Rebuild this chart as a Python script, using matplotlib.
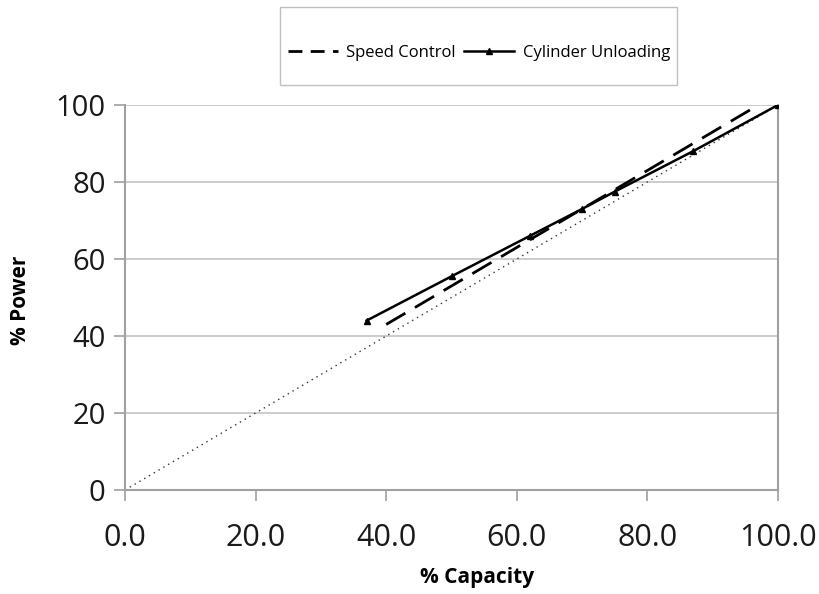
import matplotlib
matplotlib.use("Agg")
import matplotlib.pyplot as plt
from matplotlib.patches import Rectangle
from matplotlib.lines import Line2D

plt.rcParams['font.family'] = ['Open Sans', 'DejaVu Sans']

# Data
speed_x = [40, 50, 60, 70, 80, 90, 97]
speed_y = [43, 53, 63, 73, 83, 93, 100]

cyl_x = [37, 50, 62, 70, 75, 87, 100]
cyl_y = [44, 55.5, 66, 73, 77.5, 88, 100]

ref_x = [0, 100]
ref_y = [0, 100]

x_ticks = [0, 20, 40, 60, 80, 100]
x_labels = ["0.0", "20.0", "40.0", "60.0", "80.0", "100.0"]
y_ticks = [0, 20, 40, 60, 80, 100]
y_labels = ["0", "20", "40", "60", "80", "100"]

fig = plt.figure(figsize=(8.19, 5.94), dpi=100)
ax = fig.add_axes([125/819, 1-490/594, (778-125)/819, (490-105)/594])

grid_c = "#c8c8c8"
spine_c = "#a0a0a0"

for yv in y_ticks[1:]:
    ax.axhline(yv, color=grid_c, lw=1.3, zorder=0)

ax.plot(ref_x, ref_y, color="#333333", lw=1.0, ls=(0, (1, 3)), zorder=2)
ax.plot(speed_x, speed_y, color="black", lw=2.0, ls=(0, (8, 4)), zorder=3,
        label="Speed Control")
ax.plot(cyl_x, cyl_y, color="black", lw=1.8, marker="^", markersize=5,
        zorder=4, label="Cylinder Unloading")

ax.set_xlim(0, 100)
ax.set_ylim(0, 100)
ax.set_xticks(x_ticks)
ax.set_xticklabels(x_labels)
ax.set_yticks(y_ticks)
ax.set_yticklabels(y_labels)

for side in ["left", "bottom", "right"]:
    ax.spines[side].set_color(spine_c)
    ax.spines[side].set_linewidth(1.5)
ax.spines["top"].set_visible(False)

ax.tick_params(axis="both", direction="out", length=8, width=1.2,
               color=spine_c, labelcolor="#1a1a1a")
ax.tick_params(axis="x", pad=16, labelsize=22)
ax.tick_params(axis="y", pad=6, labelsize=21)

fig.text(477/819, 1-578/594, "% Capacity", fontsize=15, fontweight="bold",
         ha="center", va="center")
fig.text(21/819, 1-300/594, "% Power", fontsize=15, fontweight="bold",
         ha="center", va="center", rotation=90)

# Legend box
fig.patches.append(Rectangle((280/819, 1-85/594), (677-280)/819, 78/594,
                             transform=fig.transFigure, fill=False,
                             edgecolor="#c0c0c0", lw=1.0))
handles = [
    Line2D([], [], color="black", lw=2.0, ls=(0, (5, 3))),
    Line2D([], [], color="black", lw=1.8, marker="^", markersize=4),
]
fig.legend(handles, ["Speed Control", "Cylinder Unloading"],
           loc="center", bbox_to_anchor=(479/819, 1-53/594), ncol=2,
           frameon=False, fontsize=12, handlelength=3.0,
           handletextpad=0.5, columnspacing=0.5)

fig.savefig("out.png", dpi=100)
